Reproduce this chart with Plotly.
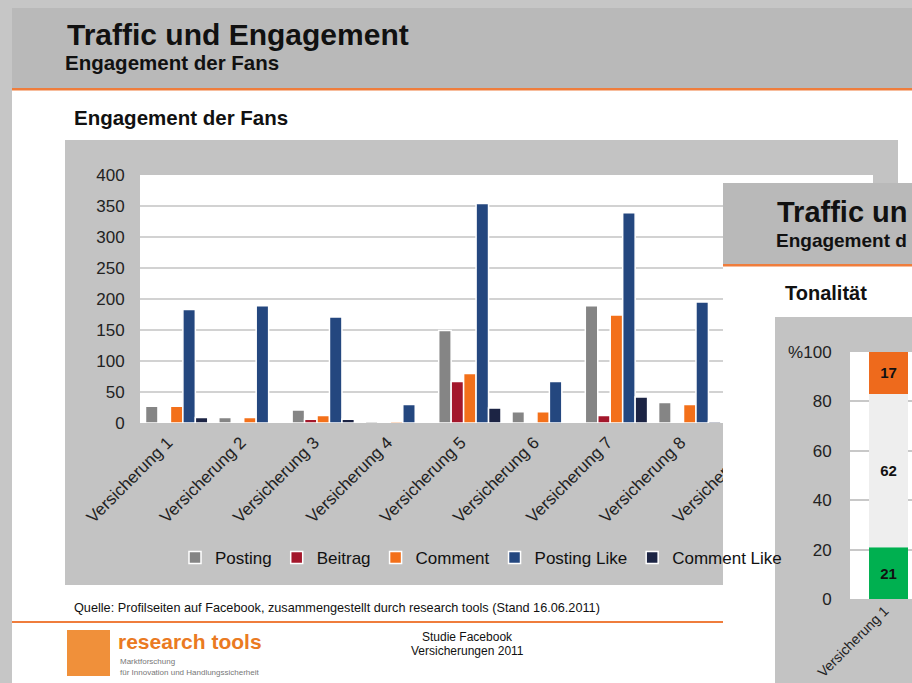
import plotly.graph_objects as go

W, H = 912, 683

# ---------------- data ----------------
categories = ["Versicherung 1", "Versicherung 2", "Versicherung 3", "Versicherung 4",
              "Versicherung 5", "Versicherung 6", "Versicherung 7", "Versicherung 8",
              "Versicherung 9", "Versicherung 10"]
posting = [27, 9, 21, 3, 149, 18, 189, 33, None, None]
beitrag = [0, 0, 6, 0, 67, 0, 12, 0, None, None]
comment = [27, 9, 12, 3, 80, 18, 174, 30, None, None]
posting_like = [183, 189, 171, 30, 354, 67, 339, 195, None, None]
comment_like = [9, 0, 6, 0, 24, 0, 42, 3, None, None]

series_names = ["Posting", "Beitrag", "Comment", "Posting Like", "Comment Like"]
series_colors = ["#858585", "#a3172b", "#f3701a", "#24477f", "#1c2444"]

tonal_categories = ["Versicherung 1"]
tonal_positiv = [21]
tonal_neutral = [62]
tonal_negativ = [17]
y3_tickvals = [0, 20, 40, 60, 80, 100]
y3_ticktext = ["0", "20", "40", "60", "80", "%100"]

FONT = "Liberation Sans, Arial, sans-serif"


def px(x):
    return x / W


def py(y):
    return 1 - y / H


fig = go.Figure()

# main grouped bar chart
for name, vals, col in zip(series_names, [posting, beitrag, comment, posting_like, comment_like], series_colors):
    fig.add_trace(go.Bar(
        x=categories, y=vals, name=name, xaxis="x", yaxis="y",
        marker=dict(color=col, line=dict(color="white", width=1.5)),
    ))

# placeholder trace creating the overlay slide subplot
fig.add_trace(go.Scatter(x=[None], y=[None], xaxis="x2", yaxis="y2", showlegend=False,
                         hoverinfo="skip", mode="markers"))

# Tonalitaet stacked bar (stacked via base)
base_neutral = [p for p in tonal_positiv]
base_negativ = [p + n for p, n in zip(tonal_positiv, tonal_neutral)]
bw = 0.506
for name, vals, base, col in [("positiv", tonal_positiv, [0] * len(tonal_positiv), "#00b050"),
                              ("neutral", tonal_neutral, base_neutral, "#eeeeee"),
                              ("negativ", tonal_negativ, base_negativ, "#ee6a1c")]:
    fig.add_trace(go.Bar(
        x=tonal_categories, y=vals, base=base, name=name, xaxis="x3", yaxis="y3",
        width=bw, offset=-bw / 2, showlegend=False,
        marker=dict(color=col, line=dict(width=0)),
        text=[str(v) for v in vals], textposition="inside", insidetextanchor="middle",
        textangle=0, textfont=dict(size=15, color="#111111", family=FONT, weight="bold"),
    ))

# ---------------- background shapes ----------------
shapes = []


def prect(x0, y0, x1, y1, color):
    shapes.append(dict(type="rect", xref="paper", yref="paper", layer="below",
                       x0=px(x0), x1=px(x1), y0=py(y1), y1=py(y0),
                       fillcolor=color, line=dict(width=0)))


prect(12, 8, 912, 683, "#ffffff")      # slide
prect(12, 8, 912, 88, "#b9b9b9")       # header
prect(12, 88, 912, 90.5, "#ef7d3c")    # header orange line
prect(65, 140, 898, 585, "#c3c3c3")    # chart panel
prect(140, 175, 873, 423, "#ffffff")   # plot area
prect(12, 621, 912, 623, "#ef7d3c")    # footer line
prect(67, 630, 110, 676, "#f0903a")    # logo block


def orect(x0, y0, x1, y1, color):
    shapes.append(dict(type="rect", xref="x2", yref="y2", layer="below",
                       x0=x0, x1=x1, y0=y0, y1=y1,
                       fillcolor=color, line=dict(width=0)))


orect(723, 183, 912, 683, "#ffffff")
orect(723, 183, 912, 264, "#b9b9b9")
orect(723, 264, 912, 266.5, "#ef7d3c")
orect(775, 317, 912, 683, "#c3c3c3")

# ---------------- texts ----------------
annotations = []


def txt(x, y, s, size, bold=False, color="#111111", xanchor="left"):
    annotations.append(dict(x=px(x), y=py(y), xref="paper", yref="paper", text=s,
                            showarrow=False, xanchor=xanchor, yanchor="middle",
                            font=dict(family=FONT, size=size, color=color,
                                      weight="bold" if bold else "normal")))


txt(65, 35, "Traffic und Engagement", 30, True)
txt(63, 63, "Engagement der Fans", 20.5, True)
txt(72, 118, "Engagement der Fans", 20.5, True)
txt(72, 608, "Quelle: Profilseiten auf Facebook, zusammengestellt durch research tools (Stand 16.06.2011)", 12.7)
txt(116, 641, "research tools", 21, True, "#ea7a22")
txt(118, 661, "Marktforschung", 8, False, "#777777")
txt(118, 672, "für Innovation und Handlungssicherheit", 8, False, "#777777")
txt(467, 637, "Studie Facebook", 12, False, "#111111", "center")
txt(467, 651, "Versicherungen 2011", 12, False, "#111111", "center")
# overlay slide texts (only the part of the covered slide that is visible)
txt(775, 212, "Traffic un", 29, True)
txt(774, 241, "Engagement d", 19, True)
txt(783, 293, "Tonalität", 20, True)

fig.update_layout(
    width=W, height=H, autosize=False,
    margin=dict(l=0, r=0, t=0, b=0, pad=0, autoexpand=False),
    paper_bgcolor="#c6c6c6", plot_bgcolor="#ffffff",
    barmode="group", bargap=0.15, bargroupgap=0,
    font=dict(family=FONT, color="#222222"),
    shapes=shapes, annotations=annotations,
    showlegend=True,
    legend=dict(orientation="h", x=px(481), xanchor="center", y=py(558), yanchor="middle",
                font=dict(size=17, color="#111111"), bgcolor="rgba(0,0,0,0)",
                itemwidth=30, traceorder="normal"),
    xaxis=dict(domain=[px(140), px(873)], anchor="y", showgrid=False, showline=False,
               zeroline=False, tickangle=-45, tickfont=dict(size=17, color="#222222"),
               ticks="outside", ticklen=2, tickcolor="rgba(0,0,0,0)", fixedrange=True,
               ticklabelshift=-9, automargin=False),
    yaxis=dict(domain=[py(423), py(175)], anchor="x", range=[0, 400], dtick=50,
               showgrid=True, gridcolor="#d2d2d2", gridwidth=1.5, zeroline=False,
               showline=False, ticks="outside", ticklen=11, tickcolor="rgba(0,0,0,0)",
               tickfont=dict(size=17, color="#222222"), fixedrange=True, automargin=False),
    xaxis2=dict(domain=[px(723), 1], anchor="y2", range=[723, 912], visible=False,
                fixedrange=True, automargin=False),
    yaxis2=dict(domain=[0, py(183)], anchor="x2", range=[683, 183], visible=False,
                fixedrange=True, automargin=False),
    xaxis3=dict(domain=[px(850), 1], anchor="y3", range=[-0.5, 0.305], showgrid=False,
                showline=False, zeroline=False, tickangle=-45,
                tickfont=dict(size=14, color="#222222"), ticks="", fixedrange=True,
                ticklabelshift=-4, automargin=False),
    yaxis3=dict(domain=[py(599), py(352)], anchor="x3", range=[0, 100],
                tickvals=y3_tickvals, ticktext=y3_ticktext,
                showgrid=True, gridcolor="#c8c8c8", gridwidth=1.5, zeroline=False,
                showline=False, ticks="outside", ticklen=14, tickcolor="rgba(0,0,0,0)",
                tickfont=dict(size=17, color="#222222"), fixedrange=True, automargin=False),
)

fig.write_html("out.html", config={"displayModeBar": False},
               post_script="document.body.style.margin='0px';")
